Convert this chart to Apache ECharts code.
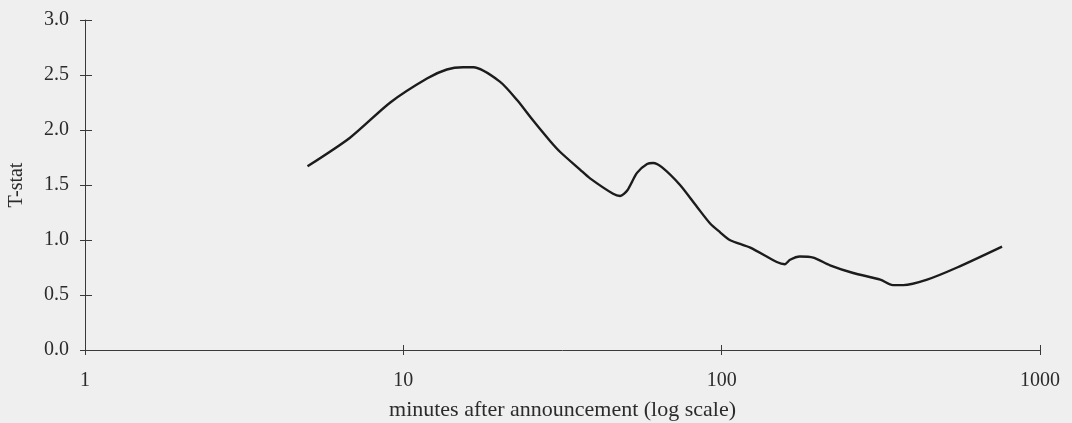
<!DOCTYPE html>
<html>
<head>
<meta charset="utf-8">
<script src="https://cdn.jsdelivr.net/npm/echarts@6/dist/echarts.min.js"></script>
<style>
html,body{margin:0;padding:0;background:#efefef;}
#chart{width:1072px;height:423px;}
</style>
</head>
<body>
<div id="chart"></div>
<script>
const minutes = [5.0, 6.8, 9.1, 11.9, 13.7, 15.4, 16.6, 20.1, 22.8, 25.5, 28.9, 31.1, 35.9, 38.6, 45.6, 48.0, 50.5, 54.2, 58.3, 60.9, 65.0, 74.0, 83.7, 92.0, 98.9, 106, 123, 149, 158, 164, 176, 194, 219, 259, 315, 345, 372, 442, 549, 760];
const tstat = [1.67, 1.93, 2.25, 2.47, 2.55, 2.57, 2.57, 2.44, 2.27, 2.09, 1.90, 1.80, 1.64, 1.56, 1.42, 1.40, 1.45, 1.61, 1.69, 1.70, 1.66, 1.50, 1.30, 1.15, 1.07, 1.00, 0.93, 0.80, 0.78, 0.82, 0.85, 0.84, 0.77, 0.70, 0.64, 0.59, 0.59, 0.64, 0.75, 0.94];
const xTitle = 'minutes after announcement (log scale)';
const yTitle = 'T-stat';

const chart = echarts.init(document.getElementById('chart'), null, {renderer: 'canvas'});
const font = 'Liberation Serif';
const txt = '#2b2b2b';
const axisCol = '#3a3a3a';
chart.setOption({
  backgroundColor: '#efefef',
  animation: false,
  grid: {left: 85, right: 32, top: 20, bottom: 73, containLabel: false, outerBoundsMode: 'none'},
  xAxis: [{
    type: 'log', logBase: 10, min: 1, max: 1000, position: 'bottom',
    axisLine: {show: true, lineStyle: {color: axisCol, width: 1}},
    axisTick: {show: true, inside: false, length: 5, lineStyle: {color: axisCol}},
    minorTick: {show: false},
    splitLine: {show: false},
    axisLabel: {color: txt, fontFamily: font, fontSize: 20, margin: 21,
      formatter: v => String(Math.round(v))},
    name: xTitle, nameLocation: 'middle', nameGap: 49,
    nameTextStyle: {color: txt, fontFamily: font, fontSize: 22}
  }, {
    type: 'log', logBase: 10, min: 1, max: 1000, position: 'bottom', offset: 0,
    axisLine: {show: false},
    axisTick: {show: true, inside: true, length: 5, lineStyle: {color: axisCol}},
    splitLine: {show: false},
    axisLabel: {show: false}
  }],
  yAxis: [{
    type: 'value', min: 0, max: 3, interval: 0.5, position: 'left',
    axisLine: {show: true, lineStyle: {color: axisCol, width: 1}},
    axisTick: {show: true, inside: false, length: 5, lineStyle: {color: axisCol}},
    splitLine: {show: false},
    axisLabel: {color: txt, fontFamily: font, fontSize: 20, margin: 16,
      formatter: v => v.toFixed(1)},
    name: yTitle, nameLocation: 'middle', nameGap: 58, nameRotate: 90,
    nameTextStyle: {color: txt, fontFamily: font, fontSize: 20}
  }, {
    type: 'value', min: 0, max: 3, interval: 0.5, position: 'left', offset: 0,
    axisLine: {show: false},
    axisTick: {show: true, inside: true, length: 7, lineStyle: {color: axisCol}},
    splitLine: {show: false},
    axisLabel: {show: false}
  }],
  series: [{
    type: 'line',
    xAxisIndex: 0, yAxisIndex: 0,
    data: minutes.map((m, i) => [m, tstat[i]]),
    showSymbol: false,
    smooth: 0.25,
    lineStyle: {color: '#1c1c1c', width: 2.4}
  }]
});
</script>
</body>
</html>
